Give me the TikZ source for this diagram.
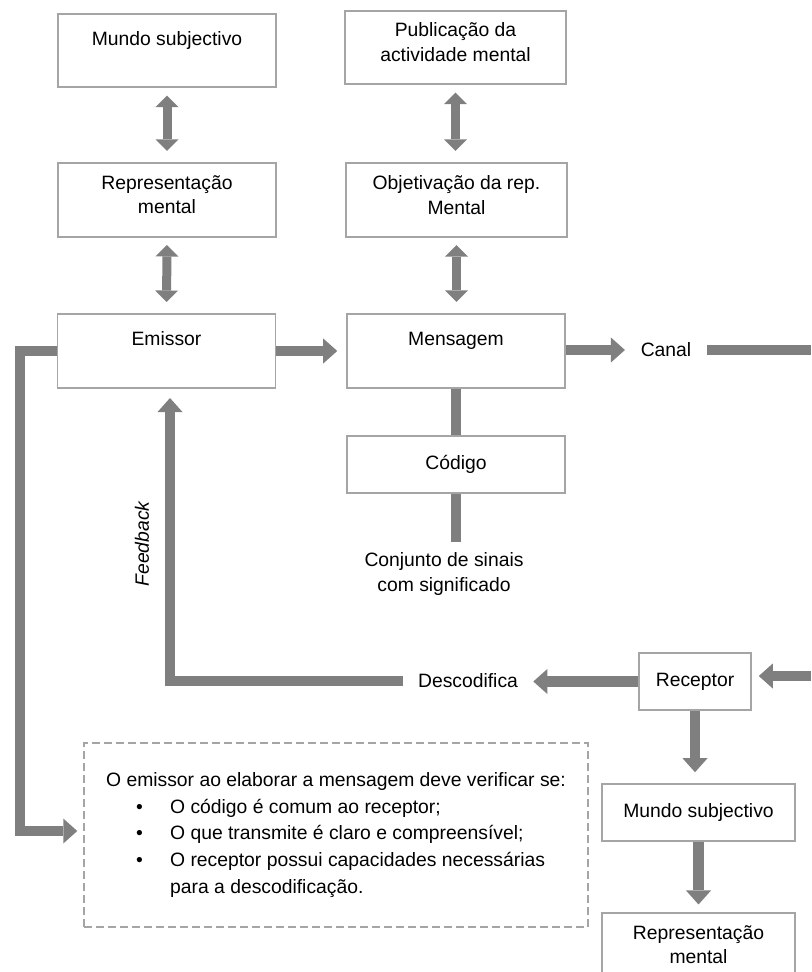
\documentclass[tikz,border=0pt]{standalone}
\usepackage{fontspec}
\setmainfont{Liberation Sans}
\usetikzlibrary{arrows.meta}
\definecolor{cinzaseta}{RGB}{127,127,127}
\definecolor{cinzaborda}{RGB}{165,165,165}

\begin{document}
\begin{tikzpicture}[x=0.02cm, y=-0.02cm,
        font=\fontsize{11}{14.2}\selectfont,
        caixa/.style={draw=cinzaborda, line width=0.9pt, fill=white, align=center, inner sep=0pt,
            minimum width=4.36cm, minimum height=1.47cm},
        rotulo/.style={align=center, inner sep=0pt},
        nota/.style={draw=cinzaborda, line width=0.9pt, dash pattern=on 0.16cm off 0.08cm, align=left,
            inner sep=0pt, minimum width=10.08cm, minimum height=3.68cm, font=\fontsize{11}{15.3}\selectfont},
        seta/.style={draw=cinzaseta, line width=0.21cm, -{Triangle[width=0.5cm, length=0.28cm, line width=0pt]}},
        setadupla/.style={draw=cinzaseta, line width=0.18cm,
            {Triangle[width=0.46cm, length=0.23cm, line width=0pt]}-{Triangle[width=0.46cm, length=0.23cm, line width=0pt]}},
        linha/.style={draw=cinzaseta, line width=0.2cm}]
    \useasboundingbox (0, 0) rectangle (811, 972);

    \node[caixa] (mundo) at (167, 50.5) {Mundo subjectivo\\\mbox{}};
    \node[caixa, minimum width=4.42cm] (publica) at (455.5, 47.5) {Publicação da\\actividade mental\\[-8pt]\mbox{}};
    \node[caixa] (repres) at (167, 200) {Representação\\mental\\[-8pt]\mbox{}};
    \node[caixa, minimum width=4.42cm] (objetiva) at (456.5, 200) {Objetivação da rep.\\Mental\\[-8pt]\mbox{}};
    \node[caixa] (emissor) at (166.5, 351) {Emissor\\\mbox{}};
    \node[caixa] (mensagem) at (456, 351) {Mensagem\\\mbox{}};
    \node[caixa, minimum height=1.14cm] (codigo) at (456, 464.5) {Código};
    \node[rotulo, inner xsep=0.31cm] (canal) at (666, 350) {Canal};
    \node[rotulo, inner ysep=0.2cm] (conjunto) at (444, 574) {Conjunto de sinais\\com significado};
    \node[rotulo, rotate=90, font=\fontsize{11}{14.2}\selectfont\itshape] (feedback) at (142, 544) {Feedback};
    \node[rotulo, inner xsep=0.3cm] (descod) at (468, 681) {Descodifica};
    \node[caixa, minimum width=2.24cm, minimum height=1.14cm] (receptor) at (695, 681.5) {Receptor};
    \node[caixa, minimum width=3.86cm, minimum height=1.14cm] (mundorec) at (698.5, 812.5) {Mundo subjectivo};
    \node[caixa, minimum width=3.86cm] (represrec) at (698.5, 950) {Representação\\mental\\[-8pt]\mbox{}};
    \node[nota] (nota) at (336, 835) {O emissor ao elaborar a mensagem deve verificar se:\\
        \hspace*{0.6cm}\makebox[0.68cm][l]{\textbullet}O código é comum ao receptor;\\
        \hspace*{0.6cm}\makebox[0.68cm][l]{\textbullet}O que transmite é claro e compreensível;\\
        \hspace*{0.6cm}\makebox[0.68cm][l]{\textbullet}O receptor possui capacidades necessárias\\
        \hspace*{1.28cm}para a descodificação.};

    \coordinate (canalfim) at (811, 350);
    \coordinate (recfim) at (811, 676);
    \coordinate (fbcanto) at (170, 681);
    \coordinate (lacofim) at (20, 831);

    \draw[setadupla, shorten <=0.15cm, shorten >=0.23cm] (mundo.south) -- (repres.north);
    \draw[setadupla, shorten <=0.15cm, shorten >=0.23cm] (publica.south) -- (publica.south |- objetiva.north);
    \draw[setadupla, shorten <=0.15cm, shorten >=0.23cm] (repres.south) -- (emissor.north);
    \draw[setadupla, shorten <=0.15cm, shorten >=0.23cm] (objetiva.south) -- (objetiva.south |- mensagem.north);

    \draw[seta, shorten >=0.18cm] (emissor.east) -- (mensagem.west);
    \draw[seta] (mensagem.east |- canal.west) -- (canal.west);
    \draw[linha] (canal.east) -- (canalfim);
    \draw[linha] (mensagem.south) -- (codigo.north);
    \draw[linha] (codigo.south) -- (codigo.south |- conjunto.north);

    \draw[seta, shorten >=0.14cm] (recfim) -- (recfim -| receptor.east);
    \draw[seta] (receptor.west) -- (receptor.west -| descod.east);
    \draw[seta, shorten >=0.19cm] (descod.west) -- (fbcanto) -- (fbcanto |- emissor.south);
    \draw[seta, shorten >=0.22cm] (receptor.south) -- (receptor.south |- mundorec.north);
    \draw[seta, shorten >=0.16cm] (mundorec.south) -- (represrec.north);
    \draw[seta, shorten >=0.12cm] (emissor.west) -| (lacofim) -- (lacofim -| nota.west);
\end{tikzpicture}
\end{document}
